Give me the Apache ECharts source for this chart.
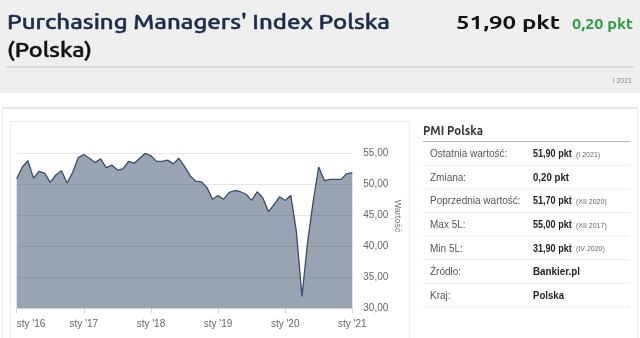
<!DOCTYPE html>
<html lang="pl">
<head>
<meta charset="utf-8">
<title>PMI Polska</title>
<script src="https://cdn.jsdelivr.net/npm/echarts@6/dist/echarts.min.js"></script>
<style>
  html, body { margin: 0; padding: 0; background: #ffffff; }
  body { width: 640px; height: 338px; position: relative; overflow: hidden; }
  #header { position: absolute; left: 0; top: 0; width: 640px; height: 93px; background: #efefef; }
  #outer { position: absolute; left: 2px; top: 107px; width: 634px; height: 260px;
           border-top: 2px solid #e9e9e9; border-left: 1px solid #ececec; border-right: 1px solid #ececec; }
  #box { position: absolute; left: 10px; top: 121px; width: 398px; height: 240px;
         border: 1px solid #ececec; background: #ffffff; }
  #chart { position: absolute; left: 10px; top: 121px; width: 400px; height: 217px; }
  #texts { position: absolute; left: 0; top: 0; width: 640px; height: 338px; pointer-events: none; }
</style>
</head>
<body>
<div id="header"></div>
<div id="outer"></div>
<div id="box"></div>
<div id="chart"></div>

<svg id="texts" width="640" height="338" xmlns="http://www.w3.org/2000/svg">
  <!-- page header -->
  <g font-family="Ubuntu, 'Open Sans', 'Noto Sans', sans-serif">
    <text x="7" y="28.5" font-size="20" font-weight="500" fill="#1b2b4b" stroke="#1b2b4b" stroke-width="0.45" textLength="383" lengthAdjust="spacingAndGlyphs">Purchasing Managers' Index Polska</text>
    <text x="7" y="57" font-size="20" font-weight="500" fill="#111111" stroke="#111111" stroke-width="0.45" textLength="85" lengthAdjust="spacingAndGlyphs">(Polska)</text>
    <text x="456" y="28.5" font-size="19" font-weight="bold" fill="#111111" textLength="104" lengthAdjust="spacingAndGlyphs">51,90 pkt</text>
    <text x="572" y="28.5" font-size="14" font-weight="bold" fill="#2a9e3e" textLength="61" lengthAdjust="spacingAndGlyphs">0,20 pkt</text>
  </g>
  <line x1="6" y1="67" x2="634" y2="67" stroke="#dcdcdc" stroke-width="2"/>
  <text x="632" y="83" font-size="7" fill="#888888" text-anchor="end" font-family="'Liberation Sans', Arial, sans-serif">I 2021</text>

  <!-- summary table -->
  <text x="423" y="134.5" font-size="12" font-weight="bold" fill="#333333" textLength="60" lengthAdjust="spacingAndGlyphs" font-family="Ubuntu, 'Open Sans', sans-serif">PMI Polska</text>
  <line x1="423" y1="141.5" x2="630" y2="141.5" stroke="#b4b4b4" stroke-width="1"/>
  <g id="rows" font-family="'Liberation Sans', Arial, sans-serif"></g>
</svg>

<script>
// Manufacturing PMI for Poland, monthly, Jan 2016 – Jan 2021
const pmi2016 = [50.9, 52.8, 53.8, 51.0, 52.1, 51.8, 50.3, 51.5, 52.2, 50.2, 51.9, 54.3];
const pmi2017 = [54.8, 54.2, 53.5, 54.1, 52.7, 53.1, 52.3, 52.5, 53.7, 53.4, 54.2, 55.0];
const pmi2018 = [54.6, 53.7, 53.7, 53.9, 53.3, 54.2, 52.9, 51.4, 50.5, 50.4, 49.5, 47.6];
const pmi2019 = [48.2, 47.6, 48.7, 49.0, 48.8, 48.4, 47.4, 48.8, 47.8, 45.6, 46.7, 48.0];
const pmi2020 = [47.4, 48.2, 42.4, 31.9, 40.6, 47.2, 52.8, 50.6, 50.8, 50.8, 50.8, 51.7];
const pmi2021 = [51.9];

const monthNames = ['sty', 'lut', 'mar', 'kwi', 'maj', 'cze', 'lip', 'sie', 'wrz', 'paź', 'lis', 'gru'];
const years = ['16', '17', '18', '19', '20', '21'];
const tickLabels = ["sty '16", "sty '17", "sty '18", "sty '19", "sty '20", "sty '21"];
const yTicks = [30, 35, 40, 45, 50, 55];

// Summary rows: label, value, date note
const rowLabels = ['Ostatnia wartość:', 'Zmiana:', 'Poprzednia wartość:', 'Max 5L:', 'Min 5L:', 'Źródło:', 'Kraj:'];
const rowValues = ['51,90 pkt', '0,20 pkt', '51,70 pkt', '55,00 pkt', '31,90 pkt', 'Bankier.pl', 'Polska'];
const rowNotes = ['(I 2021)', '', '(XII 2020)', '(XII 2017)', '(IV 2020)', '', ''];

const values = [].concat(pmi2016, pmi2017, pmi2018, pmi2019, pmi2020, pmi2021);
const categories = values.map((_, i) => monthNames[i % 12] + " '" + years[Math.floor(i / 12)]);
const isJanuary = (index) => index % 12 === 0;

// table rows
(function buildRows() {
  const ns = 'http://www.w3.org/2000/svg';
  const g = document.getElementById('rows');
  const rowStep = 23.6, firstCenter = 153.5;
  const valueWidths = [38.7, 36, 38.7, 38.7, 38.7, 47, 31];
  rowLabels.forEach((label, i) => {
    const cy = firstCenter + i * rowStep;
    const t1 = document.createElementNS(ns, 'text');
    t1.setAttribute('x', 430); t1.setAttribute('y', cy + 3.6);
    t1.setAttribute('font-size', '10'); t1.setAttribute('fill', '#555555');
    t1.textContent = label; g.appendChild(t1);

    const t2 = document.createElementNS(ns, 'text');
    t2.setAttribute('x', 533); t2.setAttribute('y', cy + 3.6);
    t2.setAttribute('font-size', '10'); t2.setAttribute('font-weight', 'bold');
    t2.setAttribute('fill', '#222222');
    t2.setAttribute('textLength', valueWidths[i]); t2.setAttribute('lengthAdjust', 'spacingAndGlyphs');
    t2.textContent = rowValues[i]; g.appendChild(t2);

    if (rowNotes[i]) {
      const t3 = document.createElementNS(ns, 'text');
      t3.setAttribute('x', 576); t3.setAttribute('y', cy + 3.3);
      t3.setAttribute('font-size', '7'); t3.setAttribute('fill', '#666666');
      t3.textContent = rowNotes[i]; g.appendChild(t3);
    }
    const ln = document.createElementNS(ns, 'line');
    ln.setAttribute('x1', 423); ln.setAttribute('x2', 630);
    ln.setAttribute('y1', cy + 11.8); ln.setAttribute('y2', cy + 11.8);
    ln.setAttribute('stroke', '#ebebeb'); ln.setAttribute('stroke-width', '1');
    g.appendChild(ln);
  });
})();

const chart = echarts.init(document.getElementById('chart'), null, { renderer: 'canvas' });
chart.setOption({
  animation: false,
  grid: { left: 6.7, right: 57.7, top: 32.3, bottom: 29.7 },
  xAxis: {
    type: 'category',
    data: categories,
    boundaryGap: false,
    axisLine: { show: false },
    axisTick: {
      show: true, interval: isJanuary, length: 5,
      lineStyle: { color: '#ccd6eb', width: 1 }
    },
    axisLabel: {
      interval: isJanuary,
      formatter: (v, i) => tickLabels[Math.floor(i / 12)],
      color: '#666666', fontSize: 10, margin: 11,
      fontFamily: "'Liberation Sans', Arial, sans-serif",
      alignMinLabel: 'left'
    },
    splitLine: { show: false }
  },
  yAxis: {
    type: 'value',
    position: 'right',
    min: yTicks[0], max: yTicks[yTicks.length - 1], interval: 5,
    axisLine: { show: false },
    axisTick: { show: false },
    axisLabel: {
      formatter: (v) => v.toFixed(2).replace('.', ','),
      color: '#666666', fontSize: 10, margin: 11,
      fontFamily: "'Liberation Sans', Arial, sans-serif",
      padding: [0, 0, 8, 0]
    },
    splitLine: { lineStyle: { color: '#e6e6e6', width: 1 } }
  },
  graphic: [{
    type: 'text',
    x: 387.5, y: 95,
    rotation: -Math.PI / 2,
    style: {
      text: 'Wartość', fill: '#777777', fontSize: 9,
      fontFamily: "'Liberation Sans', Arial, sans-serif",
      align: 'center', verticalAlign: 'middle'
    }
  }],
  series: [{
    type: 'line',
    data: values,
    symbol: 'none',
    lineStyle: { color: '#3b4c68', width: 1.3 },
    areaStyle: { color: 'rgba(49,73,101,0.5)', opacity: 1, origin: 'start' }
  }]
});
</script>
</body>
</html>
